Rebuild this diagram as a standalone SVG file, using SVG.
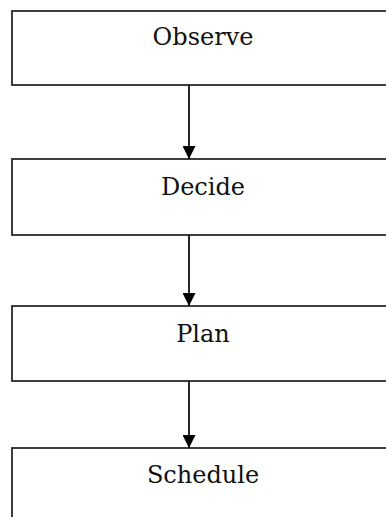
<svg xmlns="http://www.w3.org/2000/svg" width="386" height="517" viewBox="0 0 386 517">
<style>
.box{fill:#fff;stroke:#2a2a2a;stroke-width:1.8}
.lbl{font-family:"DejaVu Serif","Liberation Serif",serif;font-size:24px;fill:#111;text-anchor:middle}
.conn{stroke:#111;stroke-width:1.8;fill:none}
</style>
<defs>
<marker id="ah" markerWidth="13" markerHeight="13" refX="13" refY="6.5" orient="auto" markerUnits="userSpaceOnUse">
<path d="M0,0 L13,6.5 L0,13 Z" fill="#000"/>
</marker>
</defs>
<rect width="386" height="517" fill="#fff"/>
<g id="observe"><rect class="box" x="12" y="11" width="390" height="74"/><text class="lbl" x="203" y="45">Observe</text></g>
<g id="decide"><rect class="box" x="12" y="159" width="390" height="76"/><text class="lbl" x="203" y="195">Decide</text></g>
<g id="plan"><rect class="box" x="12" y="306" width="390" height="75"/><text class="lbl" x="203" y="342">Plan</text></g>
<g id="schedule"><rect class="box" x="12" y="448" width="390" height="90"/><text class="lbl" x="203" y="483">Schedule</text></g>
<g id="connectors">
<line class="conn" x1="189" y1="85" x2="189" y2="159" marker-end="url(#ah)"/>
<line class="conn" x1="189" y1="235" x2="189" y2="306" marker-end="url(#ah)"/>
<line class="conn" x1="189" y1="381" x2="189" y2="448" marker-end="url(#ah)"/>
</g>
</svg>
